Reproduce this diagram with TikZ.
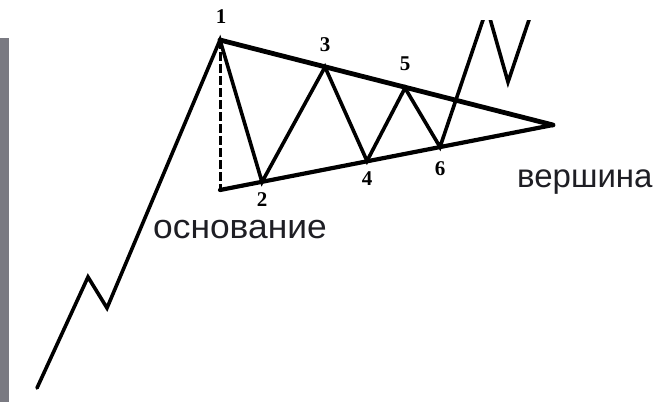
\documentclass[tikz,border=0pt]{standalone}
\usepackage{fontspec}
\setmainfont{Liberation Serif}
\newfontfamily\labsans{Liberation Sans}
\definecolor{barcol}{RGB}{122,122,130}
\definecolor{txtcol}{RGB}{30,30,36}
\begin{document}
\begin{tikzpicture}[x=1pt,y=-1pt,
  upperline/.style={line width=4.8pt, line cap=round},
  lowerline/.style={line width=4.2pt, line cap=round},
  wave/.style={line width=3.6pt, line join=miter, line cap=round},
  dashline/.style={line width=3pt, dash pattern=on 9pt off 3pt},
  num/.style={font=\fontsize{21}{21}\selectfont\bfseries, inner sep=0pt},
  word/.style={font=\labsans\fontsize{34}{34}\selectfont, text=txtcol, inner sep=0pt, anchor=base west}]
\useasboundingbox (0,0) rectangle (655,402);
\fill[barcol] (0,38) rectangle (9,402);
% points
\coordinate (S) at (37,388);
\coordinate (Z1) at (88,277);
\coordinate (Z2) at (107,308);
\coordinate (P1) at (220,40);
\coordinate (P2) at (262,182);
\coordinate (P3) at (325,67);
\coordinate (P4) at (367,161);
\coordinate (P5) at (405,88);
\coordinate (P6) at (440,147);
\coordinate (Q1) at (487,8);
\coordinate (Q2) at (508,82);
\coordinate (Q3) at (533,8);
\coordinate (B) at (220,190);
\coordinate (A) at (553,125);
% boundaries
\draw[upperline] (P1) -- (A);
\draw[lowerline] (B) -- (A);
\draw[dashline] (P1) -- (B);
% wave
\begin{scope}
\clip (0,20) rectangle (655,402);
\draw[wave] (S) -- (Z1) -- (Z2) -- (P1) -- (P2) -- (P3) -- (P4) -- (P5) -- (P6) -- (Q1) -- (Q2) -- (Q3);
\end{scope}
% labels
\node[num] (n1) at (221,17) {1};
\node[num] (n2) at (262,200) {2};
\node[num] (n3) at (325,45) {3};
\node[num] (n4) at (367,179) {4};
\node[num] (n5) at (405,64) {5};
\node[num] (n6) at (440,169) {6};
\node[word, font=\labsans\fontsize{33}{33}\selectfont] (top) at (517,187) {вершина};
\node[word, xscale=1.04] (base) at (153,238) {основание};
\end{tikzpicture}
\end{document}
